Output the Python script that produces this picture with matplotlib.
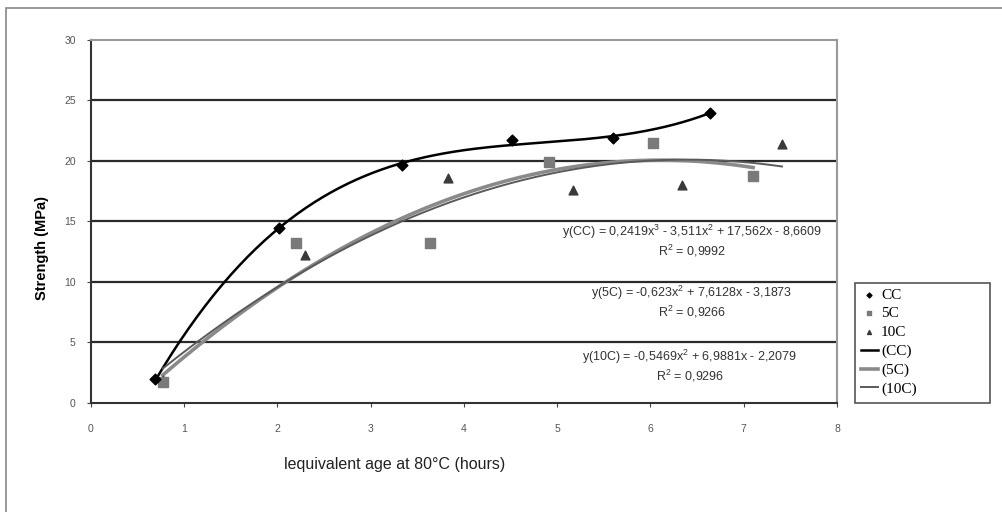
import numpy as np
import matplotlib
matplotlib.use("Agg")
import matplotlib.pyplot as plt
from matplotlib.patches import Rectangle

# measured points
cc_x = [0.69, 2.02, 3.33, 4.51, 5.60, 6.64]
cc_y = [1.95, 14.5, 19.7, 21.7, 21.9, 24.0]
c5_x = [0.77, 2.20, 3.64, 4.91, 6.03, 7.10]
c5_y = [1.75, 13.2, 13.2, 19.9, 21.5, 18.8]
c10_x = [0.77, 2.29, 3.83, 5.17, 6.34, 7.41]
c10_y = [1.9, 12.2, 18.6, 17.6, 18.0, 21.4]

# trendline coefficients shown on the chart
cc_coef = [0.2419, -3.511, 17.562, -8.6609]
c5_coef = [-0.623, 7.6128, -3.1873]
c10_coef = [-0.5469, 6.9881, -2.2079]

eq_texts = ["y(CC) = 0,2419x$^3$ - 3,511x$^2$ + 17,562x - 8,6609\nR$^2$ = 0,9992",
            "y(5C) = -0,623x$^2$ + 7,6128x - 3,1873\nR$^2$ = 0,9266",
            "y(10C) = -0,5469x$^2$ + 6,9881x - 2,2079\nR$^2$ = 0,9296"]

plt.rcParams['font.family'] = ['Liberation Sans', 'DejaVu Sans']
plt.rcParams['mathtext.fontset'] = 'custom'
plt.rcParams['mathtext.rm'] = 'Liberation Sans'

fig = plt.figure(figsize=(10.03, 5.12), dpi=100)
ax = fig.add_axes([0.0907, 0.2129, 0.7438, 0.709])

# outer frame, cut off at right and bottom
fig.patches.append(Rectangle((0.006, -0.1), 1.1, 1.084, transform=fig.transFigure,
                             fill=False, edgecolor='#888888', linewidth=1.2, clip_on=False))

for yv in [5, 10, 15, 20, 25]:
    ax.axhline(yv, color='#2a2a2a', linewidth=1.6, zorder=1)

# trendlines
xs = np.linspace(cc_x[0], cc_x[-1], 200)
ax.plot(xs, np.polyval(cc_coef, xs), color='black', linewidth=1.8, label='(CC)', zorder=3)
xs5 = np.linspace(c5_x[0], c5_x[-1], 200)
ax.plot(xs5, np.polyval(c5_coef, xs5), color='#8a8a8a', linewidth=2.6, label='(5C)', zorder=3)
xs10 = np.linspace(c10_x[0], c10_x[-1], 200)
ax.plot(xs10, np.polyval(c10_coef, xs10), color='#5a5a5a', linewidth=1.4, label='(10C)', zorder=3)

# markers
ax.scatter(c10_x, c10_y, marker='^', s=40, color='#3a3a3a', label='10C', zorder=4)
ax.scatter(c5_x, c5_y, marker='s', s=48, color='#7a7a7a', label='5C', zorder=4)
ax.scatter(cc_x, cc_y, marker='D', s=30, color='black', label='CC', zorder=5)

ax.set_xlim(0, 8)
ax.set_ylim(0, 30)
ax.set_xticks(range(0, 9))
ax.set_yticks(range(0, 31, 5))
ax.tick_params(axis='both', labelsize=7.5, labelcolor='#555555', color='#444444',
               length=3, direction='out')
ax.tick_params(axis='x', pad=12)
ax.tick_params(axis='y', pad=8)
for s in ['left', 'bottom']:
    ax.spines[s].set_color('#333333')
    ax.spines[s].set_linewidth(1.5)
for s in ['top', 'right']:
    ax.spines[s].set_color('#999999')
    ax.spines[s].set_linewidth(1.5)

# equation labels
eq_pos = [(692, 241), (692, 302), (690, 366)]
for txt, (px, py) in zip(eq_texts, eq_pos):
    fig.text(px / 1003, 1 - py / 512, txt, ha='center', va='center', fontsize=9,
             color='#333333', linespacing=1.15)

fig.text(42 / 1003, 1 - 248 / 512, 'Strength (MPa)', rotation=90, ha='center', va='center',
         fontsize=10.5, fontweight='bold')
fig.text(395 / 1003, 1 - 465 / 512, 'lequivalent age at 80°C (hours)', ha='center',
         va='center', fontsize=11.5, color='#222222')

handles, labels = ax.get_legend_handles_labels()
order = ['CC', '5C', '10C', '(CC)', '(5C)', '(10C)']
hmap = dict(zip(labels, handles))
leg = fig.legend([hmap[k] for k in order], order, loc='upper left',
                 bbox_to_anchor=(858 / 1003, 1 - 285 / 512), frameon=False,
                 prop={'family': 'Liberation Serif', 'size': 11},
                 markerscale=0.45, handlelength=1.1, handletextpad=0.2, labelspacing=0.33,
                 borderpad=0.2, borderaxespad=0)
# legend box is wider than its entries in the reference
fig.patches.append(Rectangle((855 / 1003, 1 - 403 / 512), 135 / 1003, 120 / 512,
                             transform=fig.transFigure, fill=False, edgecolor='#555555',
                             linewidth=1.2))

fig.savefig('out.png', dpi=100)
